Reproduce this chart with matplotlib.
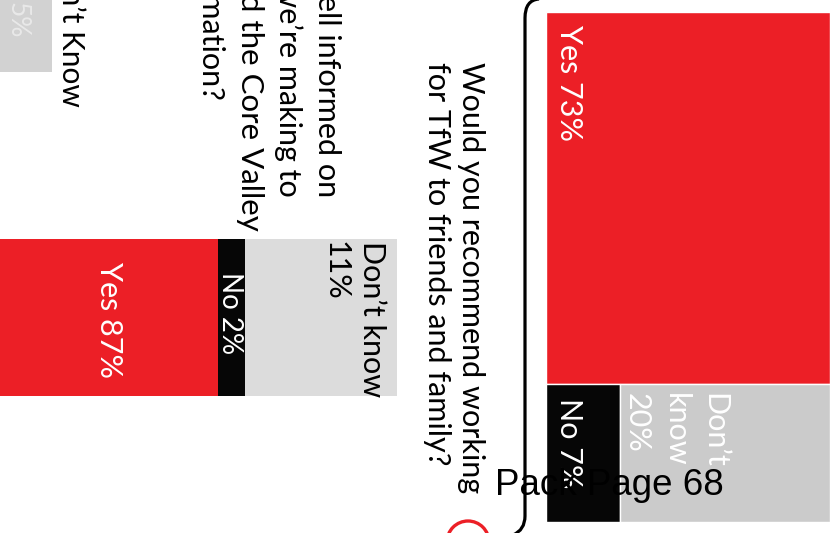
import matplotlib
matplotlib.use("Agg")
import matplotlib.pyplot as plt
from matplotlib.path import Path
from matplotlib.patches import PathPatch, Circle

# ---- data -------------------------------------------------------------
rec_question = ["Would you recommend working", "for TfW to friends and family?"]
rec_labels = ["Yes", "No", "Don\u2019t know"]
rec_values = [73, 7, 20]

info_question = ["Do you feel well informed on", "the changes we\u2019re making to",
                 "the network and the Core Valley", "Lines transformation?"]
info_labels = ["Don\u2019t know", "No", "Yes"]
info_values = [11, 2, 87]

other_label = "Don\u2019t Know"
other_value = 5

page_label = "Pack Page 68"

# ---- style ------------------------------------------------------------
RED = "#EC1F26"
BLACK = "#060606"
GREY_DARK = "#CBCBCB"
GREY_LIGHT = "#DCDCDC"
GREY_OTHER = "#D2D2D2"
FONT = "Lato"

W, H = 830, 533
fig = plt.figure(figsize=(W / 100, H / 100), dpi=100)
fig.patch.set_facecolor("white")


def px_axes(x0, y0, x1, y1, z=1):
    """Axes placed by pixel box (top-left origin)."""
    ax = fig.add_axes([x0 / W, 1 - y1 / H, (x1 - x0) / W, (y1 - y0) / H])
    ax.set_zorder(z)
    ax.axis("off")
    return ax


# ---- treemap block: recommend TfW ------------------------------------
ax1 = px_axes(546, 12, 830, 522)
ax1.set_xlim(0, 1)
ax1.set_ylim(100, 0)
yes, no, dk = rec_values
rest = no + dk
ax1.bar(0, yes, width=1, bottom=0, align="edge", color=RED,
        edgecolor="white", linewidth=1)
ax1.bar(0, rest, width=no / rest, bottom=yes, align="edge", color=BLACK,
        edgecolor="white", linewidth=1)
ax1.bar(no / rest, rest, width=dk / rest, bottom=yes, align="edge",
        color=GREY_DARK, edgecolor="white", linewidth=1)

# ---- stacked bar: well informed --------------------------------------
PX_PER_PCT = 13.8
ax2 = px_axes(0, 239, 397, 396)
ax2.set_xlim(397 / PX_PER_PCT, 0)
ax2.set_ylim(-0.5, 0.5)
info_colors = [GREY_LIGHT, BLACK, RED]
left = 0
for v, c in zip(info_values, info_colors):
    ax2.barh(0, v, left=left, height=1, color=c, edgecolor="none")
    left += v

# ---- partial bar at the far edge --------------------------------------
ax3 = px_axes(0, 0, 52, 72)
ax3.set_xlim(52 / PX_PER_PCT, 0)
ax3.set_ylim(-0.5, 0.5)
ax3.barh(0, other_value, left=0, height=1, color=GREY_OTHER, edgecolor="none")

# ---- overlay in pixel coordinates -------------------------------------
ov = px_axes(0, 0, W, H, z=5)
ov.set_xlim(0, W)
ov.set_ylim(H, 0)
ov.patch.set_alpha(0)


def vlines(x_base, y, lines, step, size=22, color="black", anchor="left"):
    """Text turned a quarter clockwise; successive lines step leftwards."""
    for i, s in enumerate(lines):
        ov.text(x_base - i * step, y, s, rotation=270, rotation_mode="anchor",
                ha=anchor, va="baseline", fontsize=size, color=color,
                family=FONT)


# question texts
vlines(462, 62, rec_question, 34)
vlines(318, 197, info_question[:2], 38.7, anchor="right")
vlines(240.7, 231, [info_question[2]], 0, size=22.5, anchor="right")
vlines(202, 100, [info_question[3]], 0, anchor="right")

# value labels on the treemap
vlines(560, 25, [f"{rec_labels[0]} {rec_values[0]}%"], 0, color="white")
vlines(560, 398, [f"{rec_labels[1]} {rec_values[1]}%"], 0, color="white")
vlines(705, 393, ["Don\u2019t", "know", f"{rec_values[2]}%"], 38.5,
       color="white")

# value labels on the stacked bar
vlines(363, 241, [info_labels[0], f"{info_values[0]}%"], 36)
vlines(222, 272, [f"{info_labels[1]} {info_values[1]}%"], 0, size=20,
       color="white")
vlines(100, 262, [f"{info_labels[2]} {info_values[2]}%"], 0, color="white")

# partial bar labels
vlines(62, 107, [other_label], 0, size=21.5, anchor="right")
vlines(10, 38, [f"{other_value}%"], 0, size=19, color="#E9E9E9",
       anchor="right")

# bracket line
verts = [(539, -1), (525, 0), (525, 18), (525, 516), (525, 530), (513, 535)]
codes = [Path.MOVETO, Path.CURVE3, Path.CURVE3, Path.LINETO,
         Path.CURVE3, Path.CURVE3]
ov.add_patch(PathPatch(Path(verts, codes), facecolor="none",
                       edgecolor="black", linewidth=2.3))

# red ring partly off the page
ov.add_patch(Circle((468, 542), 21, facecolor="none", edgecolor=RED,
                    linewidth=2.4))

# page footer
ov.text(495, 495, page_label, fontsize=26.5, family="Liberation Sans",
        color="black", ha="left", va="baseline", zorder=10)

fig.savefig("out.png", dpi=100, facecolor="white")
